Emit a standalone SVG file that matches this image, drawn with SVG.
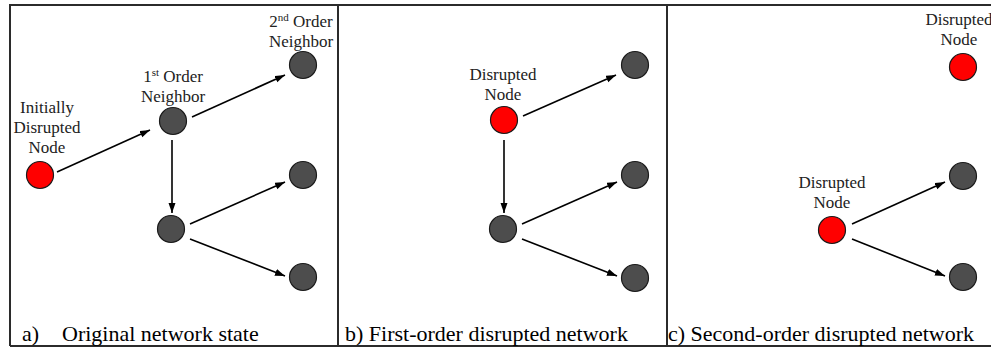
<svg xmlns="http://www.w3.org/2000/svg" width="991" height="347" viewBox="0 0 991 347">
<style>
.frame{fill:none;stroke:#2b2b2b;stroke-width:2}
.n{fill:#4d4d4d;stroke:#1a1a1a;stroke-width:1.2}
.r{fill:#ff0000;stroke:#1a1a1a;stroke-width:1.2}
text{font-family:'Liberation Serif','DejaVu Serif',serif}
.lbl{font-size:17px;fill:#222;text-anchor:middle}
.cap{font-size:22px;fill:#000}
.sup{font-size:11px}
.e{stroke:#000;stroke-width:1.6;fill:none;marker-end:url(#ah)}
</style>
<defs>
<marker id="ah" markerUnits="userSpaceOnUse" markerWidth="11" markerHeight="8" refX="10" refY="3.5" orient="auto">
<path d="M0,0 L10,3.5 L0,7 z" fill="#000"/>
</marker>
</defs>
<rect x="0" y="0" width="991" height="347" fill="#fff"/>
<g id="frame">
<path class="frame" d="M10,346 V5 H995 M10,346 H995 M338,5 V346 M667,5 V346"/>
</g>
<g id="connectors">
<line class="e" x1="57" y1="172" x2="150" y2="130"/>
<line class="e" x1="192" y1="117" x2="285" y2="75"/>
<line class="e" x1="172" y1="140" x2="172" y2="213"/>
<line class="e" x1="190" y1="224" x2="285" y2="182"/>
<line class="e" x1="190" y1="239" x2="285" y2="276"/>
<line class="e" x1="523" y1="116" x2="616" y2="75"/>
<line class="e" x1="504" y1="140" x2="504" y2="213"/>
<line class="e" x1="522" y1="224" x2="617" y2="182"/>
<line class="e" x1="522" y1="239" x2="617" y2="276"/>
<line class="e" x1="852" y1="224" x2="945" y2="182"/>
<line class="e" x1="852" y1="239" x2="945" y2="276"/>
</g>
<g id="a-initial">
<circle class="r" cx="40" cy="175" r="13.5"/>
<text class="lbl" x="47" y="113" font-family="Liberation Serif, DejaVu Serif, serif">Initially</text>
<text class="lbl" x="47" y="133" font-family="Liberation Serif, DejaVu Serif, serif">Disrupted</text>
<text class="lbl" x="47" y="153" font-family="Liberation Serif, DejaVu Serif, serif">Node</text>
</g>
<g id="a-first">
<circle class="n" cx="173" cy="121" r="13.5"/>
<text class="lbl" x="173" y="82" font-family="Liberation Serif, DejaVu Serif, serif">1<tspan class="sup" dy="-6">st</tspan><tspan dy="6"> Order</tspan></text>
<text class="lbl" x="173" y="102" font-family="Liberation Serif, DejaVu Serif, serif">Neighbor</text>
</g>
<g id="a-second">
<circle class="n" cx="303" cy="65" r="13.5"/>
<text class="lbl" x="301" y="27" font-family="Liberation Serif, DejaVu Serif, serif">2<tspan class="sup" dy="-6">nd</tspan><tspan dy="6"> Order</tspan></text>
<text class="lbl" x="301" y="47" font-family="Liberation Serif, DejaVu Serif, serif">Neighbor</text>
</g>
<g id="a-mid"><circle class="n" cx="303" cy="175" r="13.5"/></g>
<g id="a-low"><circle class="n" cx="171" cy="229" r="13.5"/></g>
<g id="a-bottom"><circle class="n" cx="303" cy="277" r="13.5"/></g>
<g id="b-disrupted">
<circle class="r" cx="504" cy="120" r="13.5"/>
<text class="lbl" x="503" y="80" font-family="Liberation Serif, DejaVu Serif, serif">Disrupted</text>
<text class="lbl" x="503" y="100" font-family="Liberation Serif, DejaVu Serif, serif">Node</text>
</g>
<g id="b-top"><circle class="n" cx="635" cy="65" r="13.5"/></g>
<g id="b-mid"><circle class="n" cx="635" cy="175" r="13.5"/></g>
<g id="b-low"><circle class="n" cx="503" cy="229" r="13.5"/></g>
<g id="b-bottom"><circle class="n" cx="635" cy="278" r="13.5"/></g>
<g id="c-top">
<circle class="r" cx="963" cy="67" r="13.5"/>
<text class="lbl" x="959" y="25" font-family="Liberation Serif, DejaVu Serif, serif">Disrupted</text>
<text class="lbl" x="959" y="45" font-family="Liberation Serif, DejaVu Serif, serif">Node</text>
</g>
<g id="c-mid"><circle class="n" cx="963" cy="176" r="13.5"/></g>
<g id="c-low">
<circle class="r" cx="832" cy="230" r="13.5"/>
<text class="lbl" x="832" y="188" font-family="Liberation Serif, DejaVu Serif, serif">Disrupted</text>
<text class="lbl" x="832" y="208" font-family="Liberation Serif, DejaVu Serif, serif">Node</text>
</g>
<g id="c-bottom"><circle class="n" cx="963" cy="277" r="13.5"/></g>
<g id="captions">
<text class="cap" x="22" y="341" font-family="Liberation Serif, DejaVu Serif, serif">a)</text>
<text class="cap" x="62" y="341" font-family="Liberation Serif, DejaVu Serif, serif">Original network state</text>
<text class="cap" x="345" y="341" font-family="Liberation Serif, DejaVu Serif, serif">b) First-order disrupted network</text>
<text class="cap" x="668" y="341" font-family="Liberation Serif, DejaVu Serif, serif">c) Second-order disrupted network</text>
</g>
</svg>
